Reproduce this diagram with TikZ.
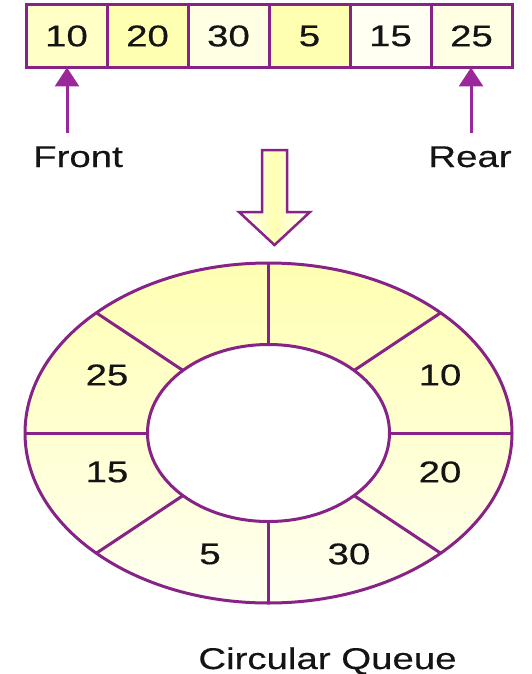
\documentclass[tikz,border=0pt]{standalone}
\usepackage{fontspec}
\setmainfont{Liberation Sans}
\newfontfamily\qfont[FakeBold=0.35]{Liberation Sans}
\usetikzlibrary{arrows.meta,calc,positioning}
\definecolor{qline}{RGB}{135,35,135}
\definecolor{qarrow}{RGB}{155,40,155}
\definecolor{qyel}{RGB}{255,255,178}
\definecolor{qpale}{RGB}{255,255,228}
\definecolor{qtext}{RGB}{20,20,20}
\newcommand{\qtxt}[1]{\scalebox{1.28}[1]{#1}}
\begin{document}
\begin{tikzpicture}[x=1pt,y=-1pt,
  cell/.style={draw=qline,line width=3pt,minimum width=81pt,minimum height=63pt,
    inner sep=0pt,outer sep=0pt,text=qtext,font=\qfont\fontsize{30}{36}\selectfont},
  lbl/.style={text=qtext,font=\qfont\fontsize{30}{36}\selectfont,inner sep=0pt},
  ptr/.style={draw=qarrow,line width=3pt,-{Triangle[width=24pt,length=19pt]}},
  ringline/.style={draw=qline,line width=3pt}]
\useasboundingbox (0,0) rectangle (532,674);
% array
\node[cell,fill=qyel!60!qpale] (c1) at (66.5,36) {\qtxt{10}};
\node[cell,fill=qyel,right=0pt of c1] (c2) {\qtxt{20}};
\node[cell,fill=qpale,right=0pt of c2] (c3) {\qtxt{30}};
\node[cell,fill=qyel,right=0pt of c3] (c4) {\qtxt{5}};
\node[cell,fill=qpale!50!white,right=0pt of c4] (c5) {\qtxt{15}};
\node[cell,fill=qpale,right=0pt of c5] (c6) {\qtxt{25}};
% pointers
\node[lbl,anchor=base] (front) at (78,167) {\qtxt{Front}};
\node[lbl,anchor=base] (rear) at (470,167) {\qtxt{Rear}};
\coordinate (fa) at (67,133);
\coordinate (ra) at (471,133);
\draw[ptr] (fa) -- (fa |- c1.south);
\draw[ptr] (ra) -- (ra |- c6.south);
% hollow down arrow
\shade[left color=white,right color=white,middle color=qyel,draw=qline,line width=2.5pt,line join=miter]
  (262,150) -- (287,150) -- (287,212) -- (310,212) -- (274.5,245) -- (239,212) -- (262,212) -- cycle;
% ring
\coordinate (c) at (268.5,433);
\shade[top color=qyel,bottom color=qpale!50!white] (c) ellipse [x radius=243.5,y radius=170];
\fill[white] (c) ellipse [x radius=121,y radius=88.5];
\foreach \a in {0,45,...,315}
  \draw[ringline] ($(c)+(\a:121 and 88.5)$) -- ($(c)+(\a:243.5 and 170)$);
\draw[ringline] (c) ellipse [x radius=243.5,y radius=170];
\draw[ringline] (c) ellipse [x radius=121,y radius=88.5];
% ring labels
\node[lbl] (r25) at (107,375) {\qtxt{25}};
\node[lbl] (r10) at (440,375) {\qtxt{10}};
\node[lbl] (r15) at (107,472) {\qtxt{15}};
\node[lbl] (r20) at (440,472) {\qtxt{20}};
\node[lbl] (r5) at (210,554) {\qtxt{5}};
\node[lbl] (r30) at (349,554) {\qtxt{30}};
\node[lbl,anchor=base] (title) at (327.5,669) {\qtxt{Circular Queue}};
\end{tikzpicture}
\end{document}
